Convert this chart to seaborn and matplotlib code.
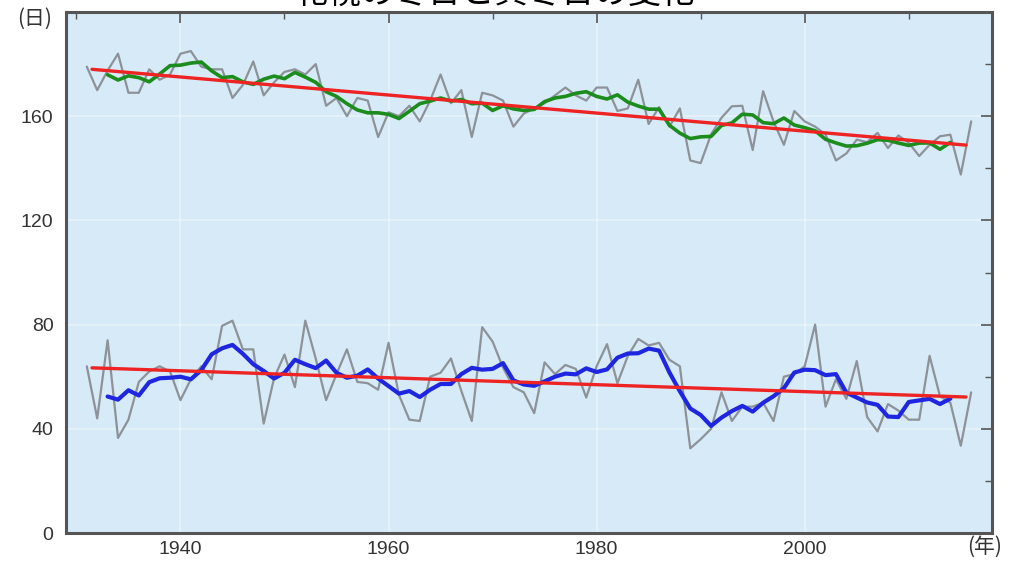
import numpy as np
import pandas as pd
import matplotlib
matplotlib.use("Agg")
import matplotlib.pyplot as plt
from matplotlib.ticker import MultipleLocator
import seaborn as sns

# ---------------- data ----------------
years = list(range(1931, 2017))
winter_days = [179, 170, 177.5, 184, 169, 169, 178, 174, 176, 184,
               185, 179, 178, 178, 167, 172, 181, 168, 173, 177,
               178, 176, 180, 164, 167, 160, 167, 166, 152, 161.5,
               160, 164, 158, 166, 176, 165, 170, 152, 169, 168,
               166, 156, 161, 163, 165, 168, 171, 168, 166, 171,
               171, 162, 163, 174, 157, 163.5, 156, 163, 143, 142,
               153, 159.4, 163.8, 164, 147, 169.6, 158, 149, 162, 158,
               156, 153, 143, 145.7, 151, 150, 153.6, 147.8, 152.6, 149.8,
               144.7, 149, 152.3, 152.9, 137.6, 158]
midwinter_days = [64, 44, 74, 36.5, 43.5, 58, 62, 64, 62, 51,
                  59, 64, 59, 79.5, 81.5, 70.5, 70.5, 42, 59.5, 68.5,
                  56, 81.5, 67, 51, 61, 70.5, 58, 57.5, 55, 73,
                  53, 43.5, 43, 60, 61.5, 67, 54.5, 43, 79, 73.5,
                  63.5, 56, 54, 46, 65.5, 61, 64.5, 63, 52, 64,
                  72.5, 57.5, 68, 74.5, 72, 73, 66.5, 64, 32.5, 36,
                  40, 54, 43, 48.5, 48.5, 50, 43, 60, 61, 64,
                  80, 48.5, 59, 51.5, 66, 44.5, 39, 49.5, 47, 43.5,
                  43.5, 68, 52.5, 50, 33.5, 54]
trend_years = [1931.5, 2015.5]
winter_trend = [178.0, 148.9]
midwinter_trend = [63.4, 52.2]

title = "札幌の冬日と真冬日の変化"
x_unit = "(年)"
y_unit = "(日)"

# ---------------- frame ----------------
df = pd.DataFrame({"year": years, "winter": winter_days, "midwinter": midwinter_days})
df["winter_ma"] = df["winter"].rolling(5, center=True).mean()
df["midwinter_ma"] = df["midwinter"].rolling(5, center=True).mean()
tr = pd.DataFrame({"year": trend_years, "winter": winter_trend, "midwinter": midwinter_trend})

sns.set_theme(style="white")
plt.rcParams["font.family"] = ["Liberation Sans", "Noto Sans CJK JP", "DejaVu Sans"]

fig = plt.figure(figsize=(10.09, 5.62), dpi=100)
ax = fig.add_axes([66 / 1009, 29 / 562, 926 / 1009, 521 / 562])
ax.set_facecolor("#d6eaf7")

gray = "#8d9299"
sns.lineplot(data=df, x="year", y="winter", ax=ax, color=gray, lw=1.6)
sns.lineplot(data=df, x="year", y="midwinter", ax=ax, color=gray, lw=1.6)
sns.lineplot(data=df, x="year", y="winter_ma", ax=ax, color="#1c8c1c", lw=2.6)
sns.lineplot(data=df, x="year", y="midwinter_ma", ax=ax, color="#1f26e0", lw=3.0)
sns.lineplot(data=tr, x="year", y="winter", ax=ax, color="#ee2424", lw=2.4)
sns.lineplot(data=tr, x="year", y="midwinter", ax=ax, color="#ee2424", lw=2.4)

ax.set_xlim(1929, 2018)
ax.set_ylim(0, 200)
ax.xaxis.set_major_locator(MultipleLocator(20))
ax.xaxis.set_minor_locator(MultipleLocator(10))
ax.yaxis.set_major_locator(MultipleLocator(40))
ax.yaxis.set_minor_locator(MultipleLocator(20))
ax.set_yticks([0, 40, 80, 120, 160])
ax.set_xticks([1940, 1960, 1980, 2000])
ax.set_xlabel("")
ax.set_ylabel("")

ax.grid(True, which="major", color="white", lw=1.4, alpha=0.35)
ax.set_axisbelow(True)

ax.tick_params(which="both", direction="in", top=True, right=True,
               color="#555555", labelcolor="#333333")
ax.tick_params(which="major", length=8, width=1.2, labelsize=14)
ax.tick_params(axis="x", which="major", pad=6)
ax.tick_params(axis="y", which="major", pad=9)
ax.tick_params(which="minor", length=5, width=1.0)
for s in ax.spines.values():
    s.set_color("#555555")
    s.set_linewidth(2.2)

fig.text(35 / 1009, 1 - 19 / 562, y_unit, ha="center", va="center", fontsize=15,
         color="#333333", family=["Noto Sans CJK JP", "DejaVu Sans"])
fig.text(985 / 1009, 1 - 547 / 562, x_unit, ha="center", va="center", fontsize=15,
         color="#333333", family=["Noto Sans CJK JP", "DejaVu Sans"])
fig.text(0.49, 1 - 3 / 562, title, ha="center", va="baseline", fontsize=24,
         color="black", family=["Noto Sans CJK JP", "DejaVu Sans"])

fig.savefig("out.png", dpi=100)
